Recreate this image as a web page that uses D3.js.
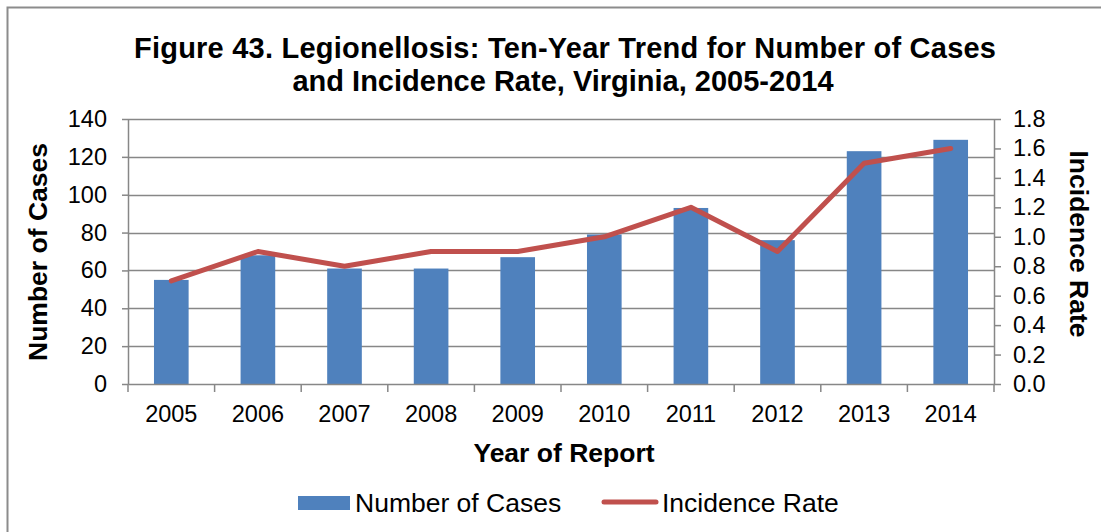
<!DOCTYPE html>
<html>
<head>
<meta charset="utf-8">
<script src="https://cdn.jsdelivr.net/npm/d3@7"></script>
<style>
  body { margin: 0; background: #fff; overflow: hidden; }
  svg { display: block; font-family: "Liberation Sans", Arial, sans-serif; }
</style>
</head>
<body>
<div id="chart"></div>
<script>
// Legionellosis - cases (bars) and incidence rate (line)

const years = ["2005", "2006", "2007", "2008", "2009", "2010", "2011", "2012", "2013", "2014"];
const cases = [55, 68, 61, 61, 67, 79, 93, 76, 123, 129];
const rates = [0.7, 0.9, 0.8, 0.9, 0.9, 1.0, 1.2, 0.9, 1.5, 1.6];
const caseTicks = [0, 20, 40, 60, 80, 100, 120, 140];
const rateTicks = [0, 0.2, 0.4, 0.6, 0.8, 1.0, 1.2, 1.4, 1.6, 1.8];

const width = 1101;
const height = 532;
const margin = {top: 119, right: 107, bottom: 148, left: 128};
const innerWidth = width - margin.left - margin.right;
const innerHeight = height - margin.top - margin.bottom;

const gridColor = "#878787";
const barColor = "#4F81BD";
const lineColor = "#C0504D";
const tickFont = 23.5;
const titleFont = 26.5;

const svg = d3.select("#chart")
    .append("svg")
    .attr("width", width)
    .attr("height", height);

// outer frame (only top and left edges fall inside the picture)
svg.append("path")
    .attr("d", `M7.5,${height} V7.5 H${width}`)
    .attr("fill", "none")
    .attr("stroke", "#8c8c8c")
    .attr("stroke-width", 2);

svg.append("text")
    .attr("x", 565)
    .attr("y", 58)
    .attr("text-anchor", "middle")
    .attr("font-size", 29)
    .attr("font-weight", "bold")
    .attr("textLength", 862)
    .text("Figure 43. Legionellosis: Ten-Year Trend for Number of Cases");

svg.append("text")
    .attr("x", 563)
    .attr("y", 91)
    .attr("text-anchor", "middle")
    .attr("font-size", 29)
    .attr("font-weight", "bold")
    .text("and Incidence Rate, Virginia, 2005-2014");

const inner = svg.append("g")
    .attr("transform", `translate(${margin.left}, ${margin.top})`);

const xScale = d3.scaleBand()
    .domain(years)
    .range([0, innerWidth])
    .paddingInner(0.6)
    .paddingOuter(0.3);

const yScale = d3.scaleLinear()
    .domain([0, 140])
    .range([innerHeight, 0]);

const rateScale = d3.scaleLinear()
    .domain([0, 1.8])
    .range([innerHeight, 0]);

// gridlines
inner.append("g")
    .selectAll("line")
    .data(caseTicks.slice(1))
    .join("line")
    .attr("x1", 0)
    .attr("x2", innerWidth)
    .attr("y1", d => Math.round(yScale(d)) + 0.5)
    .attr("y2", d => Math.round(yScale(d)) + 0.5)
    .attr("stroke", gridColor)
    .attr("stroke-width", 1.5);

// bars
inner.append("g")
    .selectAll("rect")
    .data(years.map((y, i) => ({year: y, value: cases[i]})))
    .join("rect")
    .attr("x", d => xScale(d.year))
    .attr("y", d => yScale(d.value))
    .attr("width", xScale.bandwidth())
    .attr("height", d => innerHeight - yScale(d.value))
    .attr("fill", barColor);

function styleAxis(g) {
    g.attr("font-size", tickFont)
        .attr("font-family", "'Liberation Sans', Arial, sans-serif");
    g.select(".domain").attr("stroke", gridColor).attr("stroke-width", 1.5);
    g.selectAll(".tick line").attr("stroke", gridColor).attr("stroke-width", 1.5);
    g.selectAll(".tick text").attr("fill", "#000");
}

const yAxis = d3.axisLeft(yScale)
    .tickValues(caseTicks)
    .tickSize(6)
    .tickSizeOuter(0)
    .tickPadding(15);

inner.append("g")
    .call(yAxis)
    .call(styleAxis);

const rateAxis = d3.axisRight(rateScale)
    .tickValues(rateTicks)
    .tickFormat(d3.format(".1f"))
    .tickSize(7)
    .tickSizeOuter(0)
    .tickPadding(12);

inner.append("g")
    .attr("transform", `translate(${innerWidth}, 0)`)
    .call(rateAxis)
    .call(styleAxis);

// x axis with ticks at category boundaries
const xAxisG = inner.append("g")
    .attr("transform", `translate(0, ${innerHeight})`)
    .call(d3.axisBottom(xScale).tickSize(0).tickSizeOuter(0).tickPadding(21))
    .call(styleAxis);

const step = xScale.step();
const boundaries = d3.range(years.length + 1).map(i => i * step);
xAxisG.append("g")
    .selectAll("line")
    .data(boundaries)
    .join("line")
    .attr("x1", d => d)
    .attr("x2", d => d)
    .attr("y1", 0)
    .attr("y2", 8)
    .attr("stroke", gridColor)
    .attr("stroke-width", 1.5);

// incidence rate line
const line = d3.line()
    .x((d, i) => xScale(years[i]) + xScale.bandwidth() / 2)
    .y(d => rateScale(d));

inner.append("path")
    .datum(rates)
    .attr("fill", "none")
    .attr("stroke", lineColor)
    .attr("stroke-width", 5)
    .attr("stroke-linejoin", "round")
    .attr("stroke-linecap", "round")
    .attr("d", line);

// axis titles
svg.append("text")
    .attr("transform", `translate(47, 252) rotate(-90)`)
    .attr("text-anchor", "middle")
    .attr("font-size", titleFont)
    .attr("font-weight", "bold")
    .text("Number of Cases");

svg.append("text")
    .attr("transform", `translate(1070, 244) rotate(90)`)
    .attr("text-anchor", "middle")
    .attr("font-size", titleFont)
    .attr("font-weight", "bold")
    .text("Incidence Rate");

svg.append("text")
    .attr("x", 564)
    .attr("y", 462)
    .attr("text-anchor", "middle")
    .attr("font-size", titleFont)
    .attr("font-weight", "bold")
    .text("Year of Report");

// legend
const legend = svg.append("g");
legend.append("rect")
    .attr("x", 298)
    .attr("y", 496)
    .attr("width", 52)
    .attr("height", 14)
    .attr("fill", barColor);
legend.append("text")
    .attr("x", 355)
    .attr("y", 512)
    .attr("font-size", titleFont)
    .text("Number of Cases");
legend.append("line")
    .attr("x1", 604)
    .attr("x2", 656)
    .attr("y1", 502)
    .attr("y2", 502)
    .attr("stroke", lineColor)
    .attr("stroke-width", 5)
    .attr("stroke-linecap", "round");
legend.append("text")
    .attr("x", 662)
    .attr("y", 512)
    .attr("font-size", titleFont)
    .text("Incidence Rate");
</script>
</body>
</html>
